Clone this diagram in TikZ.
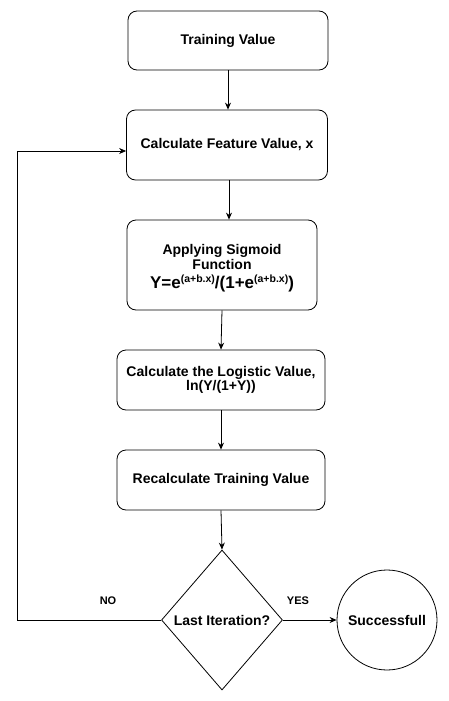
\documentclass[tikz,border=0pt]{standalone}
\usepackage{fontspec}
\setmainfont{Liberation Sans}
\usetikzlibrary{shapes.geometric,arrows.meta}
\newcommand{\supx}{\raisebox{6.5pt}{\fontsize{10.5}{12}\selectfont(a+b.x)}}
\begin{document}
\begin{tikzpicture}[x=1pt,y=-1pt,
  box/.style={draw,rounded corners=9pt,line width=0.8pt,align=center,font=\bfseries\fontsize{14}{14.5}\selectfont,inner sep=0pt},
  arr/.style={draw,line width=0.8pt,-{Stealth[length=7pt,width=6pt]}},
  lab/.style={font=\bfseries\fontsize{11}{13}\selectfont}]
\useasboundingbox (0,0) rectangle (448,701);
\node[box,minimum width=200,minimum height=59] (b1) at (228,40.5) {Training Value};
\node[box,minimum width=201,minimum height=70] (b2) at (227,145) {Calculate Feature Value, x};
\node[box,minimum width=190,minimum height=90] (b3) at (222,265) {\rule{0pt}{17pt}Applying Sigmoid\\Function\\[5pt]{\fontsize{17}{18}\selectfont Y=e\supx/(1+e\supx)}};
\node[box,minimum width=208,minimum height=60] (b4) at (221,380) {Calculate the Logistic Value,\\ln(Y/(1+Y))};
\node[box,minimum width=208,minimum height=60] (b5) at (221,480) {Recalculate Training Value};
\node[draw,diamond,line width=0.8pt,minimum width=121,minimum height=140,inner sep=0pt,font=\bfseries\fontsize{14}{16}\selectfont] (d) at (222,620) {Last Iteration?};
\node[draw,circle,line width=0.8pt,minimum size=100,inner sep=0pt,font=\bfseries\fontsize{14}{16}\selectfont] (s) at (387,620) {Successfull};
\coordinate (c1) at (17,620);
\coordinate (c2) at (17,151);
\draw[arr] (b1.south -| 228,0) -- (228,0 |- b2.north);
\draw[arr] (229,0 |- b2.south) -- (229,0 |- b3.north);
\draw[arr] (b3.south) -- (b4.north);
\draw[arr] (b4.south) -- (b5.north);
\draw[arr] (b5.south) -- (d.north);
\draw[arr] (d.east) -- (s.west);
\draw[arr] (d.west) -- (c1) -- (c2) -- (c2 -| b2.west);
\node[lab] (no) at (108,601) {NO};
\node[lab] (yes) at (298,601) {YES};
\end{tikzpicture}
\end{document}
